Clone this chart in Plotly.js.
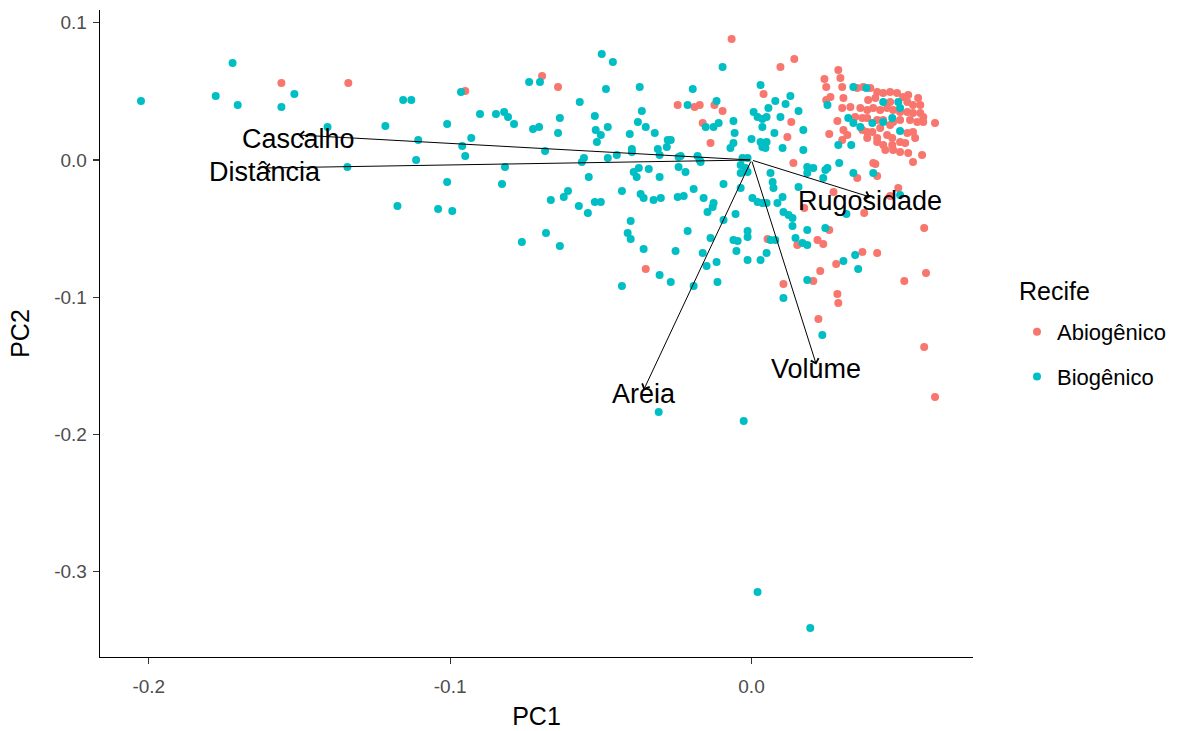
<!DOCTYPE html>
<html>
<head>
<meta charset="utf-8">
<script src="https://cdn.plot.ly/plotly-3.0.1.min.js"></script>
<style>html,body{margin:0;padding:0;background:#fff;}#chart{width:1184px;height:731px;}</style>
</head>
<body>
<div id="chart"></div>
<script>
// ---- Data (PC scores) ----
const abioX = [-0.1560,-0.1338,-0.0950,-0.0695,-0.0642,-0.0351,-0.0245,-0.0066,0.0142,0.0096,0.0040,
 -0.0189,-0.0172,-0.0123,-0.0096,-0.0162,-0.0136,0.0132,0.0119,0.0139,0.0053,0.0152,0.0175,0.0106,0.0205,
 0.0228,0.0281,0.0368,0.0417,0.0285,0.0288,0.0222,0.0507,0.0579,0.0573,0.0609,0.0573,0.0351,0.0417,0.0411,
 0.0536,0.0272,0.0374,0.0460,0.0487,0.0258,0.0219,0.0238,0.0566,
 0.0288,0.0295,0.0301,0.0242,0.0248,0.0262,0.0248,0.0305,0.0301,0.0328,0.0351,0.0371,0.0394,0.0417,0.0437,
 0.0460,0.0483,0.0503,0.0520,0.0553,0.0560,0.0387,0.0411,0.0460,0.0517,0.0536,0.0361,0.0384,0.0404,0.0427,
 0.0450,0.0470,0.0493,0.0517,0.0536,0.0560,0.0570,0.0344,0.0368,0.0384,0.0417,0.0437,0.0470,0.0493,0.0526,
 0.0550,0.0570,0.0609,0.0285,0.0258,0.0305,0.0318,0.0301,0.0368,0.0384,0.0401,0.0427,0.0460,0.0384,0.0417,
 0.0450,0.0467,0.0517,0.0536,0.0543,0.0417,0.0437,0.0467,0.0493,0.0510,0.0444,0.0470,0.0493,0.0520,0.0404];
const abioY = [0.0561,0.0561,0.0503,0.0612,0.0532,-0.0794,0.0401,0.0882,0.0736,0.0678,0.0481,
 0.0386,0.0401,0.0401,0.0357,0.0270,0.0124,0.0277,0.0168,-0.0022,-0.0576,-0.0619,-0.0350,-0.0903,-0.0882,
 -0.0809,-0.0758,-0.0670,-0.0678,-0.0977,-0.1042,-0.1158,-0.0882,-0.0823,-0.1362,-0.1727,-0.0495,-0.0131,-0.0117,-0.0029,
 -0.0015,-0.0233,-0.0386,-0.0262,-0.0204,-0.0510,-0.0583,-0.0612,0.0036,
 0.0656,0.0597,0.0532,0.0590,0.0532,0.0459,0.0437,0.0452,0.0379,0.0386,0.0525,0.0532,0.0525,0.0495,0.0488,
 0.0495,0.0488,0.0459,0.0474,0.0452,0.0401,0.0437,0.0452,0.0423,0.0423,0.0401,0.0379,0.0364,0.0379,0.0364,
 0.0379,0.0364,0.0350,0.0350,0.0342,0.0342,0.0313,0.0313,0.0306,0.0306,0.0291,0.0291,0.0277,0.0291,0.0291,
 0.0277,0.0277,0.0270,0.0284,0.0189,0.0219,0.0182,0.0146,0.0219,0.0204,0.0204,0.0233,0.0255,0.0160,0.0160,
 0.0182,0.0160,0.0197,0.0204,0.0160,0.0131,0.0109,0.0109,0.0131,0.0124,0.0073,0.0073,0.0058,0.0051,-0.0022];

const bioX = [-0.2026,-0.1722,-0.1778,-0.1705,-0.1517,-0.1560,-0.1407,-0.1215,-0.1156,-0.1129,-0.1341,-0.1175,
 -0.1106,-0.1113,-0.1010,-0.1010,-0.1040,-0.0993,-0.0964,-0.0960,-0.0950,-0.0930,-0.0901,-0.0848,-0.0821,-0.0808,
 -0.0788,-0.0818,-0.0828,-0.0762,-0.0738,-0.0702,-0.0725,-0.0705,-0.0685,-0.0666,-0.0682,-0.0636,-0.0636,-0.0642,
 -0.0623,-0.0609,-0.0573,-0.0543,-0.0570,-0.0556,-0.0563,-0.0540,-0.0520,-0.0500,-0.0497,-0.0460,-0.0483,-0.0520,
 -0.0517,-0.0500,-0.0477,-0.0513,-0.0477,-0.0447,-0.0430,-0.0404,-0.0397,-0.0397,-0.0371,-0.0364,-0.0377,-0.0351,
 -0.0321,-0.0278,-0.0268,-0.0281,-0.0311,-0.0305,-0.0374,-0.0391,-0.0381,-0.0341,-0.0305,-0.0368,-0.0358,-0.0325,
 -0.0301,-0.0245,-0.0401,-0.0411,-0.0401,-0.0358,-0.0252,-0.0305,-0.0268,-0.0430,-0.0242,-0.0242,
 -0.0096,-0.0195,0.0030,-0.0212,-0.0116,-0.0152,-0.0126,-0.0109,-0.0060,-0.0056,-0.0070,-0.0060,0.0000,0.0007,
 0.0020,0.0036,0.0050,0.0036,0.0056,0.0079,0.0113,0.0129,0.0096,0.0156,0.0172,0.0076,0.0030,0.0050,0.0036,
 0.0046,0.0103,0.0172,-0.0235,-0.0179,-0.0172,-0.0030,-0.0013,0.0185,
 -0.0219,-0.0169,-0.0036,-0.0020,-0.0036,-0.0013,-0.0093,-0.0036,-0.0192,-0.0225,-0.0159,-0.0126,-0.0129,-0.0146,
 -0.0053,-0.0093,-0.0212,-0.0136,-0.0162,-0.0149,-0.0116,-0.0060,-0.0046,-0.0013,-0.0013,-0.0050,-0.0013,0.0030,
 0.0050,0.0003,0.0020,0.0036,0.0050,0.0063,0.0070,0.0073,0.0086,0.0103,0.0106,0.0123,0.0136,0.0136,0.0146,
 0.0063,0.0079,0.0185,0.0185,0.0156,0.0185,0.0106,-0.0192,-0.0113,0.0185,
 0.0305,0.0344,0.0354,0.0235,-0.0308,-0.0026,0.0020,0.0195,
 0.0205,0.0252,0.0291,0.0238,0.0338,0.0404,0.0493,0.0315,0.0245,0.0169,
 0.0338,0.0381,0.0252,0.0437,0.0487,0.0493,0.0321,0.0338,0.0361,0.0401,0.0437,0.0467,0.0493,0.0288,0.0331,0.0245];
const bioY = [0.0430,0.0707,0.0466,0.0401,0.0481,0.0386,0.0240,0.0248,0.0437,0.0437,-0.0051,-0.0335,
 0.0146,0.0000,0.0262,-0.0160,-0.0357,-0.0372,0.0495,0.0102,0.0029,0.0160,0.0335,0.0335,0.0350,0.0313,
 0.0262,-0.0051,-0.0175,-0.0597,0.0568,0.0568,0.0226,0.0240,0.0066,-0.0291,-0.0532,-0.0627,0.0306,0.0197,
 -0.0270,-0.0226,-0.0335,-0.0386,0.0423,0.0015,-0.0015,-0.0124,-0.0306,-0.0306,0.0772,0.0714,0.0517,0.0321,
 0.0219,0.0182,0.0240,0.0131,0.0015,0.0036,-0.0226,0.0189,0.0080,0.0058,0.0532,0.0357,0.0277,0.0240,
 0.0197,0.0146,0.0146,0.0095,0.0080,0.0036,-0.0058,-0.0087,-0.0124,-0.0066,-0.0124,-0.0248,-0.0277,-0.0291,
 -0.0277,-0.0270,-0.0444,-0.0532,-0.0576,-0.0648,-0.0663,-0.0838,-0.0889,-0.0918,0.0022,-0.0051,
 0.0678,0.0517,0.0546,0.0401,0.0430,0.0240,0.0240,0.0270,0.0284,0.0197,0.0087,0.0124,0.0153,0.0350,
 0.0313,0.0299,0.0313,0.0240,0.0379,0.0430,0.0408,0.0466,0.0313,0.0357,0.0219,0.0197,0.0131,0.0131,0.0095,
 0.0087,0.0087,0.0073,0.0029,0.0029,0.0000,0.0015,0.0015,-0.0051,
 -0.0087,-0.0015,-0.0036,-0.0058,-0.0095,-0.0087,-0.0175,-0.0204,-0.0211,-0.0262,-0.0277,-0.0313,-0.0342,-0.0379,
 -0.0393,-0.0437,-0.0517,-0.0568,-0.0678,-0.0772,-0.0743,-0.0583,-0.0590,-0.0517,-0.0561,-0.0663,-0.0729,-0.0729,
 -0.0678,-0.0277,-0.0306,-0.0313,-0.0313,-0.0095,-0.0160,-0.0204,-0.0313,-0.0270,-0.0379,-0.0401,-0.0423,-0.0481,-0.0568,
 -0.0583,-0.0583,-0.0510,-0.0619,-0.0197,-0.0095,-0.1006,-0.0918,-0.0889,-0.0874,
 -0.0736,-0.0692,-0.0794,-0.1275,-0.1836,-0.1902,-0.3148,-0.3410,
 -0.0058,-0.0058,-0.0022,-0.0131,-0.0095,-0.0095,-0.0255,-0.0393,-0.0495,-0.0605,
 0.0532,0.0525,0.0401,0.0423,0.0423,0.0379,0.0306,0.0270,0.0240,0.0270,0.0277,0.0306,0.0211,0.0109,0.0109,-0.0073];

// Loadings (arrow tips)
const varNames = ["Cascalho","Distância","Rugosidade","Areia","Volume"];
const loadX = [-0.1503,-0.1616,0.0394,-0.0358,0.0215];
const loadY = [0.0182,-0.0058,-0.0270,-0.1676,-0.1490];

const groupNames = ["Abiogênico","Biogênico"];
const groupColors = ["#F8766D","#00BFC4"];
const legendTitle = "Recife";

const xTickVals = [-0.2,-0.1,0.0];
const xTickText = ["-0.2","-0.1","0.0"];
const yTickVals = [0.1,0.0,-0.1,-0.2,-0.3];
const yTickText = ["0.1","0.0","-0.1","-0.2","-0.3"];

const FONT = "Liberation Sans, Arial, sans-serif";

const traces = [
  {x: abioX, y: abioY, name: groupNames[0], legendgroup: "a", type: "scatter", mode: "markers",
   marker: {color: groupColors[0], size: 8, line: {width: 0}}, hoverinfo: "skip"},
  {x: bioX, y: bioY, name: groupNames[1], legendgroup: "b", type: "scatter", mode: "markers",
   marker: {color: groupColors[1], size: 8, line: {width: 0}}, hoverinfo: "skip"}
];

const annotations = [];
varNames.forEach((nm, i) => {
  annotations.push({x: loadX[i], y: loadY[i], xref: "x", yref: "y", ax: 0, ay: 0, axref: "x", ayref: "y",
    text: "", showarrow: true, arrowhead: 4, arrowsize: 1.6, arrowwidth: 1, arrowcolor: "#000", standoff: 0});
});
varNames.forEach((nm, i) => {
  annotations.push({x: loadX[i], y: loadY[i], xref: "x", yref: "y", text: nm, showarrow: false,
    yshift: -4, font: {family: FONT, size: 27, color: "#000"}});
});
annotations.push({xref: "paper", yref: "paper", x: (1017-100)/873, y: (731-74-291)/647, xanchor: "left", yanchor: "middle",
  text: legendTitle, showarrow: false, font: {family: FONT, size: 25, color: "#000"}});

const axisCommon = {showgrid: false, zeroline: false, showline: true, linecolor: "#000", linewidth: 1.3,
  ticks: "outside", ticklen: 6, tickwidth: 1.1, tickcolor: "#333",
  tickfont: {family: FONT, size: 19, color: "#4D4D4D"}};

const layout = {
  width: 1184, height: 731,
  margin: {l: 100, r: 211, t: 10, b: 74},
  paper_bgcolor: "#fff", plot_bgcolor: "#fff",
  font: {family: FONT},
  xaxis: Object.assign({}, axisCommon, {range: [-0.2162, 0.0735], tickvals: xTickVals, ticktext: xTickText,
    ticklabelstandoff: 6,
    title: {text: "PC1", font: {family: FONT, size: 25, color: "#000"}, standoff: 11}}),
  yaxis: Object.assign({}, axisCommon, {range: [-0.3621, 0.1093], tickvals: yTickVals, ticktext: yTickText,
    ticklabelstandoff: 2,
    title: {text: "PC2", font: {family: FONT, size: 25, color: "#000"}, standoff: 17}}),
  showlegend: true,
  legend: {xref: "container", yref: "container", x: 1017/1184, y: 1 - 311/731, xanchor: "left", yanchor: "top",
    font: {family: FONT, size: 22, color: "#000"}, tracegroupgap: 13, bgcolor: "rgba(0,0,0,0)"},
  annotations: annotations
};

Plotly.newPlot("chart", traces, layout, {staticPlot: true, displayModeBar: false});
</script>
</body>
</html>
